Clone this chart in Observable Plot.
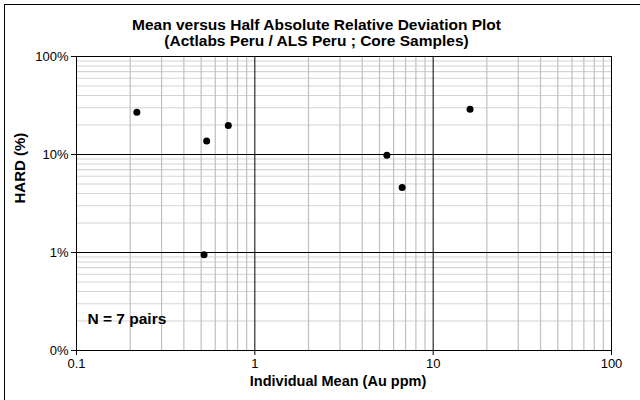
<!DOCTYPE html>
<html>
<head>
<meta charset="utf-8">
<script src="https://cdn.jsdelivr.net/npm/d3@7"></script>
<script src="https://cdn.jsdelivr.net/npm/@observablehq/plot@0.6"></script>
<style>
  html, body { margin: 0; padding: 0; background: #fff; }
  #wrap { position: relative; width: 640px; height: 400px; overflow: hidden; }
  #border { position: absolute; left: 4px; top: 4px; width: 640px; height: 400px;
            border-left: 1.5px solid #000; border-top: 1.5px solid #000; box-sizing: border-box; pointer-events: none; }
</style>
</head>
<body>
<div id="wrap"><div id="border"></div></div>
<script>
// ---- data ----
const meanAu  = [0.218, 0.537, 0.710, 0.519, 16.1, 5.5, 6.7];   // Individual Mean (Au ppm)
const hardPct = [27.0, 13.7, 19.8, 0.95, 29.0, 9.8, 4.6];       // HARD (%)

const xTicks = [0.1, 1, 10, 100];
const xTickLabels = ["0.1", "1", "10", "100"];
const yTicks = [0.1, 1, 10, 100];
const yTickLabels = ["0%", "1%", "10%", "100%"];

const titleLines = ["Mean versus Half Absolute Relative Deviation Plot",
                    "(Actlabs Peru / ALS Peru ; Core Samples)"];
const xLabel = "Individual Mean (Au ppm)";
const yLabel = "HARD (%)";
const note = "N = 7 pairs";

// minor gridline positions (2..9 within each decade)
const minorOf = (decades) => decades.slice(0, -1).flatMap(d => [2,3,4,5,6,7,8,9].map(k => +(k * d).toPrecision(3)));
const xMinor = minorOf(xTicks);
const yMinor = minorOf(yTicks);

const points = meanAu.map((x, i) => ({x, y: hardPct[i]}));
const font = "'Liberation Sans', Arial, sans-serif";

const chart = Plot.plot({
  width: 640,
  height: 400,
  marginLeft: 76,
  marginRight: 29,
  marginTop: 56,
  marginBottom: 50,
  style: {fontFamily: font, fontSize: "13px", color: "#000", background: "transparent", overflow: "visible"},
  x: {type: "log", domain: [0.1, 100]},
  y: {type: "log", domain: [0.1, 100]},
  marks: [
    Plot.ruleY(yMinor, {stroke: "#d4d4d4", strokeWidth: 1.2}),
    Plot.ruleX(xMinor, {stroke: "#c0c0c0", strokeWidth: 1.2}),
    Plot.ruleY(yTicks.slice(1, -1), {stroke: "#000", strokeWidth: 1}),
    Plot.ruleX(xTicks.slice(1, -1), {stroke: "#000", strokeWidth: 1}),
    Plot.frame({stroke: "#000", strokeWidth: 1}),
    Plot.axisX({ticks: xTicks, tickFormat: (d) => xTickLabels[xTicks.indexOf(d)], tickSize: 5, tickPadding: 3, label: null, fontSize: 13}),
    Plot.axisY({ticks: yTicks, tickFormat: (d) => yTickLabels[yTicks.indexOf(d)], tickSize: 5, tickPadding: 3, label: null, fontSize: 13}),
    Plot.dot(points, {x: "x", y: "y", r: 3.5, fill: "#000", stroke: "none"}),
    Plot.text([note], {frameAnchor: "bottom-left", dx: 11, dy: -27, textAnchor: "start", fontWeight: "bold", fontSize: 15.5}),
    Plot.text([xLabel], {frameAnchor: "bottom", dx: -6, dy: 35, fontWeight: "bold", fontSize: 14.5}),
    Plot.text([yLabel], {frameAnchor: "left", dx: -56, rotate: -90, fontWeight: "bold", fontSize: 15}),
    Plot.text([titleLines[0]], {frameAnchor: "top-left", dx: 240, dy: -38, textAnchor: "middle", fontWeight: "bold", fontSize: 15.5}),
    Plot.text([titleLines[1]], {frameAnchor: "top-left", dx: 240, dy: -22, textAnchor: "middle", fontWeight: "bold", fontSize: 15.5})
  ]
});
document.getElementById("wrap").prepend(chart);
</script>
</body>
</html>
